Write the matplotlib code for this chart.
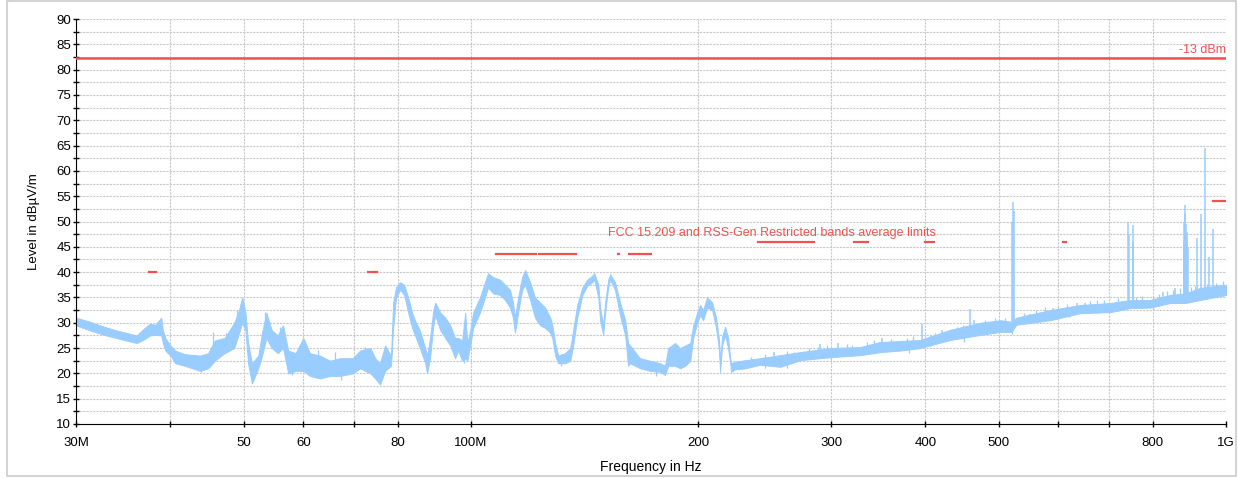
import numpy as np
import matplotlib.pyplot as plt
from matplotlib.ticker import FixedLocator, MultipleLocator, NullLocator

plt.rcParams['font.family'] = ['Liberation Sans', 'DejaVu Sans']

# measured trace envelope (MHz, low / high level in dBuV/m)
freq_mhz = [30.0, 31.3, 32.7, 34.3, 36.1, 37.0, 37.6, 38.2, 38.9, 39.1,
            39.4, 40.0, 40.6, 41.8, 43.8, 44.9, 45.8, 47.2, 48.6, 49.2,
            49.8, 50.3, 50.7, 51.3, 52.3, 52.9, 53.6, 54.5, 55.5, 56.4,
            57.3, 58.6, 60.0, 61.2, 63.1, 65.1, 67.1, 69.8, 71.3, 73.6,
            74.7, 75.8, 77.0, 78.4, 78.9, 79.6, 80.6, 81.6, 82.6, 83.6,
            84.6, 85.6, 87.0, 87.5, 88.3, 89.1, 89.7, 91.1, 92.5, 93.9,
            95.3, 96.2, 97.4, 98.3, 98.9, 99.8, 100.7, 102.8, 104.4, 105.4,
            107.0, 109.3, 111.0, 112.7, 113.7, 114.4, 115.5, 116.9, 118.0, 119.8,
            121.6, 123.5, 125.4, 127.4, 128.2, 129.3, 130.5, 133.3, 135.4, 136.6,
            138.3, 140.5, 142.6, 144.8, 145.7, 147.5, 148.3, 149.7, 150.6, 152.0,
            152.9, 155.2, 157.6, 160.1, 161.5, 162.5, 167.5, 172.7, 178.1, 180.8,
            182.5, 186.4, 189.3, 192.2, 195.2, 197.0, 199.4, 201.2, 203.0, 205.5,
            208.7, 211.2, 213.2, 213.8, 215.1, 217.1, 219.1, 220.5, 221.1, 223.9,
            230.8, 241.6, 256.9, 272.9, 299.1, 327.8, 348.4, 370.3, 393.6, 431.3,
            472.7, 502.3, 520.0, 527.5, 585.0, 641.2, 702.6, 746.8, 793.8, 843.6,
            883.3, 924.3, 1000.0]

level_lo = [29.5, 28.5, 27.6, 26.8, 26.0, 26.8, 27.5, 27.6, 27.5, 26.0,
            24.5, 23.5, 22.0, 21.5, 20.5, 21.0, 22.5, 24.0, 25.0, 27.5,
            30.0, 28.5, 22.0, 18.0, 21.0, 23.5, 27.0, 25.0, 24.0, 25.0,
            20.0, 20.5, 20.5, 19.5, 19.0, 19.5, 19.5, 20.0, 21.0, 20.0,
            19.0, 17.8, 20.5, 21.5, 29.0, 35.0, 36.5, 35.5, 32.0, 29.0,
            27.0, 25.0, 22.0, 20.0, 23.0, 29.0, 31.5, 28.5, 27.0, 25.5,
            23.0, 24.5, 22.5, 23.0, 22.5, 25.5, 29.0, 32.0, 35.0, 37.0,
            35.8, 35.5, 34.5, 33.0, 31.0, 28.0, 32.0, 36.5, 37.5, 34.5,
            31.0, 29.5, 29.0, 28.0, 27.0, 23.5, 22.0, 22.0, 22.5, 25.5,
            31.0, 35.5, 37.3, 38.0, 38.5, 35.0, 30.5, 27.6, 32.0, 37.0,
            38.5, 36.5, 31.5, 27.5, 21.5, 22.0, 21.0, 20.5, 20.3, 19.7,
            21.5, 21.5, 21.0, 21.5, 22.5, 27.0, 30.0, 31.5, 30.5, 33.0,
            32.5, 29.0, 24.5, 20.3, 25.5, 27.5, 25.0, 22.0, 20.3, 20.8,
            21.0, 21.7, 21.3, 22.6, 23.2, 23.6, 24.2, 24.5, 25.0, 26.6,
            27.6, 28.2, 28.2, 29.6, 30.5, 31.9, 32.1, 32.9, 33.0, 33.9,
            33.9, 34.5, 35.5]

level_hi = [31.0, 30.2, 29.2, 28.3, 27.5, 29.0, 29.8, 29.6, 31.0, 28.5,
            27.0, 25.5, 24.5, 23.8, 23.5, 24.0, 26.5, 27.0, 30.0, 32.0,
            35.0, 32.0, 26.0, 22.0, 23.5, 28.0, 32.0, 28.5, 27.5, 29.5,
            24.5, 24.0, 27.0, 24.0, 23.5, 22.5, 23.0, 23.0, 24.5, 25.0,
            23.0, 22.0, 25.5, 23.5, 34.0, 37.0, 38.0, 37.5, 35.0, 32.0,
            30.0, 28.5, 25.0, 23.5, 27.0, 32.0, 34.0, 32.0, 31.0, 29.5,
            27.0, 27.0, 26.5, 32.0, 26.0, 28.5, 32.0, 35.0, 38.0, 39.8,
            39.0, 38.5, 37.5, 36.5, 34.0, 31.0, 35.0, 39.0, 40.4, 38.0,
            35.0, 34.0, 33.0, 31.0, 29.5, 26.0, 23.5, 24.0, 25.0, 28.5,
            33.5, 37.0, 38.5, 39.3, 39.8, 37.5, 33.0, 29.5, 34.0, 38.5,
            39.6, 38.0, 34.0, 30.5, 26.0, 25.5, 23.0, 22.5, 22.0, 21.5,
            25.0, 26.0, 25.0, 25.5, 26.0, 29.5, 32.0, 33.5, 32.5, 35.0,
            34.0, 31.0, 26.5, 22.0, 27.2, 29.2, 27.0, 23.0, 22.0, 22.3,
            22.6, 23.0, 23.6, 24.2, 25.0, 25.2, 26.2, 26.4, 26.6, 28.6,
            30.0, 30.5, 30.2, 31.0, 32.5, 33.5, 33.9, 34.5, 34.5, 35.5,
            35.8, 36.9, 37.5]

# narrow spikes (MHz, peak level)
spike_mhz = [252.0, 290.0, 306.6, 349.8, 395.7, 420.8, 458.5, 464.0, 490.0,
             521.5, 523.0, 524.5, 550.0, 590.0, 635.0, 651.0,
             742.0, 745.0, 752.0, 754.0, 825.7, 856.5,
             879.0, 880.5, 882.0, 883.5, 885.0, 887.0, 889.0, 891.0,
             916.0, 928.0, 939.0, 950.0, 962.0, 982.0]
spike_db = [24.2, 25.8, 26.0, 27.0, 29.8, 28.5, 32.7, 30.5, 30.0,
            50.0, 53.9, 52.0, 31.7, 32.9, 33.9, 33.9,
            49.9, 47.5, 46.0, 49.3, 36.1, 36.9,
            46.0, 50.0, 53.3, 51.5, 49.5, 48.0, 46.5, 45.0,
            46.8, 51.5, 64.5, 43.0, 48.5, 37.5]

# small noise hairs above the trace and dips below it
hair_mhz = [45.6, 47.4, 49.0, 53.4, 55.8, 59.6, 62.7, 66.1, 72.4,
            235, 245, 262, 268, 280, 288, 296, 315, 320, 335, 342, 360, 378,
            385, 405, 412, 440, 448, 480, 495, 510, 540, 560, 575, 600, 615,
            660, 675, 690, 720, 760, 775, 800, 815, 835, 850, 870, 900, 910,
            945, 970, 990]
hair_db = [28.2, 28.0, 32.5, 32.2, 29.2, 25.2, 24.6, 24.2, 25.2,
           23.2, 23.8, 24.4, 24.3, 25.0, 25.2, 25.7, 25.8, 25.6, 26.1, 26.5,
           26.8, 27.0, 27.4, 27.6, 27.9, 29.2, 29.5, 30.6, 31.0, 31.0, 32.0,
           32.5, 33.1, 33.4, 33.7, 34.2, 34.4, 34.5, 34.9, 35.0, 35.3, 35.3,
           35.7, 36.2, 36.5, 36.8, 37.0, 37.3, 37.6, 37.8, 38.2]
dip_mhz = [43.9, 57.9, 63.5, 67.3, 98.0, 131.8, 176.0, 245.0, 262.0, 300.0,
           380.0, 450.0, 520.0, 620.0, 800.0]
dip_db = [20.2, 19.7, 19.1, 18.7, 22.0, 21.5, 19.4, 21.0, 21.0, 22.8,
          24.0, 26.2, 27.8, 31.2, 32.5]

# FCC 15.209 restricted bands (start MHz, stop MHz, limit)
band_start = [37.5, 73.0, 74.8, 108.0, 123.0, 149.9, 156.52475, 156.7, 162.0125,
              167.72, 240.0, 322.0, 399.9, 608.0, 960.0]
band_stop = [38.25, 74.6, 75.2, 121.94, 138.0, 150.05, 156.52525, 156.9, 167.17,
             173.2, 285.0, 335.4, 410.0, 614.0, 1000.0]
band_limit = [40.0, 40.0, 40.0, 43.5, 43.5, 43.5, 43.5, 43.5, 43.5,
              43.5, 46.0, 46.0, 46.0, 46.0, 54.0]

erp_limit = 82.2   # -13 dBm

tick_mhz = [30, 40, 50, 60, 70, 80, 100, 200, 300, 400, 500, 600, 700, 800, 1000]
tick_labels = ['30M', '', '50', '60', '', '80', '100M', '200', '300', '400', '500',
               '', '', '800', '1G']

blue = '#99ccff'
red = '#f05252'

fig = plt.figure(figsize=(12.38, 4.78), dpi=100)
ax = fig.add_axes([76 / 1238, 54 / 478, 1150 / 1238, 405 / 478])

f = np.array(freq_mhz) * 1e6
ax.fill_between(f, level_lo, level_hi, facecolor=blue, edgecolor=blue, linewidth=0.7, zorder=2)

sf = np.array(spike_mhz) * 1e6
ax.vlines(sf, np.interp(sf, f, level_lo), spike_db, color=blue, linewidth=1.1, zorder=2)
hf = np.array(hair_mhz) * 1e6
ax.vlines(hf, np.interp(hf, f, level_lo), hair_db, color=blue, linewidth=0.9, zorder=2)
df = np.array(dip_mhz) * 1e6
ax.vlines(df, dip_db, np.interp(df, f, level_hi), color=blue, linewidth=0.9, zorder=2)

# limit lines
ax.axhline(erp_limit, color=red, linewidth=1.8, zorder=3)
ax.hlines(band_limit, np.array(band_start) * 1e6, np.array(band_stop) * 1e6,
          color=red, linewidth=1.6, capstyle='projecting', zorder=3)
ax.text(1e9, erp_limit + 0.4, '-13 dBm', color=red, fontsize=9, ha='right', va='bottom')
ax.text(152e6, 47.7, 'FCC 15.209 and RSS-Gen Restricted bands average limits',
        color=red, fontsize=9, ha='left', va='center')

ax.set_xscale('log')
ax.set_xlim(30e6, 1e9)
ax.set_ylim(10, 90)
ax.xaxis.set_major_locator(FixedLocator(np.array(tick_mhz) * 1e6))
ax.xaxis.set_minor_locator(NullLocator())
ax.set_xticklabels(tick_labels)
ax.yaxis.set_major_locator(MultipleLocator(5))
ax.yaxis.set_minor_locator(MultipleLocator(2.5))

ax.set_axisbelow(True)
ax.grid(axis='y', which='both', color='#c8c8c8', linestyle=(0, (2, 1)), linewidth=0.8)
ax.grid(axis='x', which='major', color='#c8c8c8', linestyle=(0, (2, 1)), linewidth=0.8)

ax.spines['top'].set_visible(False)
ax.spines['right'].set_visible(False)
ax.tick_params(axis='both', which='both', direction='inout', length=5, width=1, labelsize=9.5)
ax.tick_params(axis='x', pad=7)
ax.tick_params(axis='y', pad=1)

ax.set_xlabel('Frequency in Hz', fontsize=10)
ax.set_ylabel('Level in dBµV/m', fontsize=9.5)
ax.xaxis.set_label_coords(0.5, -0.088)
ax.yaxis.set_label_coords(-0.031, 0.5)

# light frame around the whole picture
fig.add_artist(plt.Rectangle((7 / 1238, 2 / 478), 1229 / 1238, 475 / 478,
                             transform=fig.transFigure, fill=False,
                             edgecolor='#d4d4d4', linewidth=1.5))

fig.savefig('out.png', dpi=100)
